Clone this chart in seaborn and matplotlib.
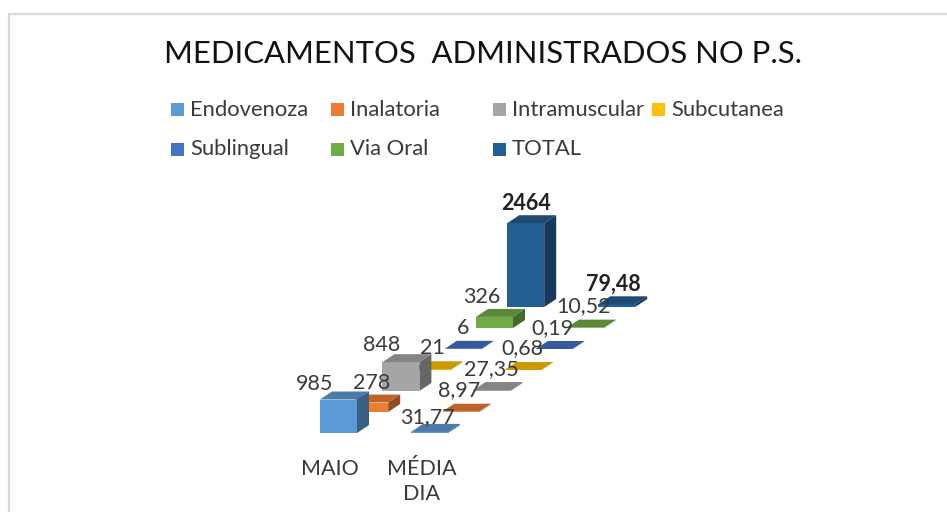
import pandas as pd
import matplotlib
matplotlib.use('Agg')
import matplotlib.pyplot as plt
import seaborn as sns
import numpy as np
from matplotlib.patches import Polygon, Rectangle
from matplotlib.transforms import Affine2D, IdentityTransform
from matplotlib.colors import to_rgb

categorias = ['MAIO', 'MÉDIA\nDIA']
series = ['Endovenoza', 'Inalatoria', 'Intramuscular', 'Subcutanea', 'Sublingual', 'Via Oral', 'TOTAL']
maio = [985, 278, 848, 21, 6, 326, 2464]
media_dia = [31.77, 8.97, 27.35, 0.68, 0.19, 10.52, 79.48]
rotulos_maio = ['985', '278', '848', '21', '6', '326', '2464']
rotulos_media = ['31,77', '8,97', '27,35', '0,68', '0,19', '10,52', '79,48']
cores = ['#5B9BD5', '#ED7D31', '#A5A5A5', '#FFC000', '#4472C4', '#70AD47', '#255E91']

# deslocamento em pixels (profundidade de cada serie e da caixa 3D)
passo_serie = (31.2, 21.0)
prof = (12, 8)

# posicao dos rotulos em relacao ao centro da frente da barra, na base (pixels)
desloc_maio = [(-24, 49), (2, 29), (-19, 46), (0, 22), (0, 21), (-13, 31), (0, 103)]
desloc_media = [(-2, 16), (-2, 22), (-1, 22), (-1, 22), (-2, 21), (-2, 22), (-3, 23)]

dados = pd.DataFrame({
    'categoria': np.repeat(categorias, len(series)),
    'serie': series * 2,
    'valor': maio + media_dia,
})

sns.set_theme(style='white')
plt.rcParams['font.family'] = ['Lato', 'DejaVu Sans']

fig = plt.figure(figsize=(9.47, 5.12), dpi=100)
W, H = 947, 512
# eixo com base em y=433px, 91px por categoria e 0.034 px por unidade
ax = fig.add_axes([293 / W, (H - 433) / H, 600 / W, 230 / H])

sns.barplot(data=dados, x='categoria', y='valor', hue='serie', hue_order=series,
            palette=cores, dodge=False, width=37 / 91, saturation=1, legend=False,
            errorbar=None, ax=ax)

ax.set_xlim(-45.5 / 91, -45.5 / 91 + 600 / 91)
ax.set_ylim(0, 230 / 0.034)
ax.set_xlabel('')
ax.set_ylabel('')
ax.set_yticks([])
ax.set_xticks(np.arange(2) - 0.09, categorias, fontsize=15.5, color='#3a3a3a', linespacing=1.3)
ax.tick_params(axis='x', length=0, pad=19)
sns.despine(ax=ax, left=True, bottom=True, top=True, right=True)
ax.patch.set_alpha(0)

for i, cont in enumerate(ax.containers):
    dx, dy = i * passo_serie[0], i * passo_serie[1]
    tr = ax.transData + Affine2D().translate(dx, dy)
    z = 10 - i
    base = to_rgb(cores[i])
    topo = tuple(c * 0.8 for c in base)
    lado = tuple(c * 0.62 for c in base)
    for j, barra in enumerate(cont.patches):
        barra.set_transform(tr)
        barra.set_clip_on(False)
        barra.set_zorder(z)
        barra.set_linewidth(0)
        x0, larg = barra.get_x(), barra.get_width()
        alt = barra.get_height()
        esq, inf = tr.transform((x0, 0))
        dir_, sup = tr.transform((x0 + larg, alt))
        ax.add_patch(Polygon([(esq, sup), (dir_, sup), (dir_ + prof[0], sup + prof[1]), (esq + prof[0], sup + prof[1])],
                             closed=True, fc=topo, lw=0, transform=IdentityTransform(), clip_on=False, zorder=z))
        ax.add_patch(Polygon([(dir_, inf), (dir_ + prof[0], inf + prof[1]), (dir_ + prof[0], sup + prof[1]), (dir_, sup)],
                             closed=True, fc=lado, lw=0, transform=IdentityTransform(), clip_on=False, zorder=z))
        rotulos = rotulos_maio if j == 0 else rotulos_media
        desloc = desloc_maio if j == 0 else desloc_media
        negrito = i == len(series) - 1
        ax.annotate(rotulos[i], xy=((esq + dir_) / 2, inf), xycoords=IdentityTransform(),
                    xytext=(desloc[i][0] * 0.72, desloc[i][1] * 0.72), textcoords='offset points',
                    ha='center', va='center', fontsize=15.5, color='#222222' if negrito else '#3a3a3a',
                    fontweight='bold' if negrito else 'normal', zorder=20, annotation_clip=False)

# titulo e legenda no estilo do excel
fig.text(483.5 / W, 1 - 54 / H, 'MEDICAMENTOS  ADMINISTRADOS NO P.S.', ha='center', va='center',
         fontsize=22.3, color='#111111')

col_x = [171, 331, 493, 652]
lin_y = [109.5, 149]
for k, nome in enumerate(series):
    px = col_x[k % 4]
    py = lin_y[k // 4]
    fig.add_artist(Rectangle((px / W, 1 - (py + 6.5) / H), 13 / W, 13 / H, transform=fig.transFigure,
                             fc=cores[k], lw=0))
    fig.text((px + 19) / W, 1 - py / H, nome, ha='left', va='center', fontsize=15.8, color='#3a3a3a')

# borda do grafico (sem lado direito)
fig.add_artist(plt.Line2D([8.5 / W, 8.5 / W, 1], [0, 1 - 14 / H, 1 - 14 / H],
                          color='#D9D9D9', lw=1.6, transform=fig.transFigure))

fig.savefig('out.png', dpi=100)
